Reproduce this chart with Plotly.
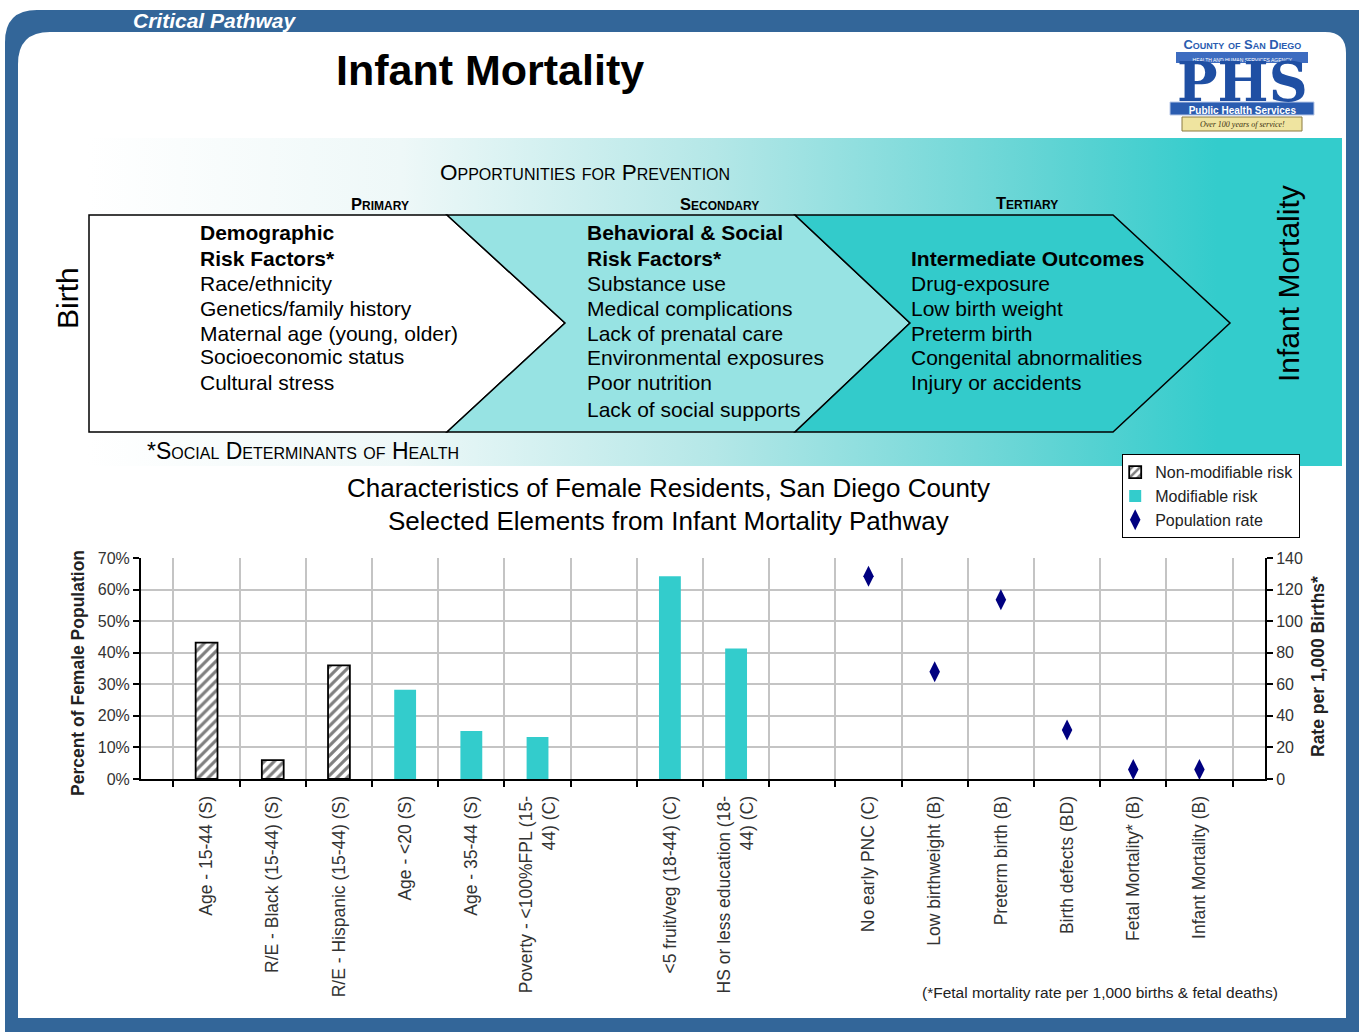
import plotly.graph_objects as go

W, H = 1359, 1032

# ---------------- data ----------------
categories = [
    "Age - 15-44 (S)", "R/E - Black (15-44) (S)", "R/E - Hispanic (15-44) (S)",
    "Age - &lt;20 (S)", "Age - 35-44 (S)", "Poverty - &lt;100%FPL (15-<br>44) (C)", " ",
    "&lt;5 fruit/veg (18-44) (C)", "HS or less education (18-<br>44) (C)", "  ",
    "No early PNC (C)", "Low birthweight (B)", "Preterm birth (B)",
    "Birth defects (BD)", "Fetal Mortality* (B)", "Infant Mortality (B)",
]
non_modifiable = [43.2, 6.0, 36.0, None, None, None, None, None, None, None,
                  None, None, None, None, None, None]
modifiable = [None, None, None, 28.3, 15.2, 13.3, None, 64.2, 41.3, None,
              None, None, None, None, None, None]
population_rate = [None, None, None, None, None, None, None, None, None, None,
                   128.5, 68.0, 113.5, 31.0, 6.0, 6.0]
left_ticks = [0, 10, 20, 30, 40, 50, 60, 70]
left_tick_text = ["0%", "10%", "20%", "30%", "40%", "50%", "60%", "70%"]
right_ticks = [0, 20, 40, 60, 80, 100, 120, 140]

primary_lines = ["Demographic", "Risk Factors*", "Race/ethnicity", "Genetics/family history",
                 "Maternal age (young, older)", "Socioeconomic status", "Cultural stress"]
secondary_lines = ["Behavioral & Social", "Risk Factors*", "Substance use", "Medical complications",
                   "Lack of prenatal care", "Environmental exposures", "Poor nutrition",
                   "Lack of social supports"]
tertiary_lines = ["Intermediate Outcomes", "Drug-exposure", "Low birth weight", "Preterm birth",
                  "Congenital abnormalities", "Injury or accidents"]

SANS = "Liberation Sans, Arial, sans-serif"
TEAL = "#33cccc"
BLUE = "#336699"


def X(px):
    return px / W


def Y(py):
    return 1 - py / H


def P(points, close=True):
    s = "M " + " L ".join(f"{X(a):.5f},{Y(b):.5f}" for a, b in points)
    return s + (" Z" if close else "")


fig = go.Figure()

# gradient background band on a hidden page-sized axis
fig.add_trace(go.Scatter(
    x=[88, 1342, 1342, 88, 88], y=[138, 138, 466, 466, 138],
    xaxis="x3", yaxis="y3", mode="lines", line=dict(width=0),
    fill="toself", hoverinfo="skip", showlegend=False,
    fillgradient=dict(type="horizontal",
                      colorscale=[[0, "#ffffff"], [0.25, "#eef8f8"], [0.5, "#b4e7e7"],
                                  [0.75, "#66d5d5"], [0.9, TEAL], [1, TEAL]]),
))

# chart traces
fig.add_trace(go.Bar(
    x=categories, y=non_modifiable, name="Non-modifiable risk", width=0.33,
    marker=dict(color="white", line=dict(color="black", width=1.8),
                pattern=dict(shape="/", fgcolor="black", bgcolor="white", size=7, solidity=0.45)),
))
fig.add_trace(go.Bar(
    x=categories, y=modifiable, name="Modifiable risk", width=0.33,
    marker=dict(color=TEAL, line=dict(width=0)),
))
fig.add_trace(go.Scatter(
    x=categories, y=population_rate, name="Population rate", yaxis="y2", mode="markers",
    marker=dict(symbol="diamond-tall", color="#000080", size=15),
))

shapes = []
# frame
shapes.append(dict(type="path", xref="paper", yref="paper", layer="below",
                   path=f"M {X(5)},{Y(1032)} L {X(5)},{Y(42)} Q {X(5)},{Y(10)} {X(37)},{Y(10)} "
                        f"L {X(1359)},{Y(10)} L {X(1359)},{Y(1032)} Z",
                   fillcolor=BLUE, line=dict(width=0)))
shapes.append(dict(type="path", xref="paper", yref="paper", layer="below",
                   path=f"M {X(18)},{Y(1018)} L {X(18)},{Y(64)} Q {X(18)},{Y(32)} {X(50)},{Y(32)} "
                        f"L {X(1325)},{Y(32)} Q {X(1346)},{Y(32)} {X(1346)},{Y(53)} "
                        f"L {X(1346)},{Y(1018)} Z",
                   fillcolor="white", line=dict(width=0)))
# chevrons
shapes.append(dict(type="path", xref="paper", yref="paper", layer="above",
                   path=P([(89, 215), (447, 215), (565, 323), (447, 432), (89, 432)]),
                   fillcolor="white", line=dict(color="black", width=1.5)))
shapes.append(dict(type="path", xref="paper", yref="paper", layer="above",
                   path=P([(447, 215), (795, 215), (910, 323), (795, 432), (447, 432), (565, 323)]),
                   fillcolor="#97e3e3", line=dict(color="black", width=1.5)))
shapes.append(dict(type="path", xref="paper", yref="paper", layer="above",
                   path=P([(795, 215), (1113, 215), (1230, 323), (1113, 432), (795, 432), (910, 323)]),
                   fillcolor="#33cbcb", line=dict(color="black", width=1.5)))
# logo bars
shapes.append(dict(type="rect", xref="paper", yref="paper", layer="below",
                   x0=X(1176), x1=X(1308), y0=Y(52), y1=Y(63), fillcolor="#3d6cc0", line=dict(width=0)))
shapes.append(dict(type="rect", xref="paper", yref="paper", layer="below",
                   x0=X(1170), x1=X(1314), y0=Y(102), y1=Y(115), fillcolor="#2a5cb0",
                   line=dict(color="#b8c8e8", width=1)))
shapes.append(dict(type="rect", xref="paper", yref="paper", layer="below",
                   x0=X(1182), x1=X(1302), y0=Y(117), y1=Y(131), fillcolor="#efe4a0",
                   line=dict(color="#8a7a40", width=1)))

ann = []


def T(x, y, text, size, color="black", family=SANS, xa="left", ya="middle", **kw):
    font = dict(size=size, color=color, family=family)
    for k in ("weight", "style", "variant"):
        if k in kw:
            font[k] = kw.pop(k)
    ann.append(dict(x=X(x), y=Y(y), xref="paper", yref="paper", text=text, showarrow=False,
                    xanchor=xa, yanchor=ya, font=font, **kw))


T(131, 20, "Critical Pathway", 21, color="white", weight="bold", style="italic")
T(490, 70, "Infant Mortality", 43, weight="bold", xa="center")

# logo as one multi-line text block (line pitch set by the 10px base font)
logo_lines = [
    "<span style='font-size:13px;font-variant:small-caps'><b>County of San Diego</b></span>",
    "<span style='font-size:5px;color:white'>HEALTH AND HUMAN SERVICES AGENCY</span>",
    " ",
    " ",
    "<span style='font-size:54px;font-family:DejaVu Serif;color:#1f4fa3'><b>PHS</b></span>",
    "<span style='color:white'><b>Public Health Services</b></span>",
    "<span style='font-size:8px;font-family:Liberation Serif;color:#3a3010'><i>Over 100 years of service!</i></span>",
]
T(1242, 35, "<br>".join(logo_lines), 10, color="#2a5cb0", xa="center", ya="top")

# prevention diagram texts
T(585, 173, "Opportunities for Prevention", 22.5, variant="small-caps", xa="center")
T(380, 204, "Primary", 16.5, variant="small-caps", weight="bold", xa="center")
T(719, 204, "Secondary", 16.5, variant="small-caps", weight="bold", xa="center")
T(1027, 203, "Tertiary", 16.5, variant="small-caps", weight="bold", xa="center")
T(67, 298, "Birth", 30, xa="center", textangle=-90)
T(1288, 284, "Infant Mortality", 30, xa="center", textangle=-90)

prim_y = [233, 258, 283, 308, 333, 357, 382]
for i, (t, yy) in enumerate(zip(primary_lines, prim_y)):
    T(198, yy, t, 21, weight=("bold" if i < 2 else "normal"))
sec_y = [233, 258, 283, 308, 333, 358, 382, 409]
for i, (t, yy) in enumerate(zip(secondary_lines, sec_y)):
    T(585, yy, t, 21, weight=("bold" if i < 2 else "normal"))
ter_y = [258, 283, 308, 333, 358, 382]
for i, (t, yy) in enumerate(zip(tertiary_lines, ter_y)):
    T(909, yy, t, 21, weight=("bold" if i < 1 else "normal"))
T(145, 451, "*Social Determinants of Health", 23, variant="small-caps")

# chart titles / axis titles / footnote
T(668, 488, "Characteristics of Female Residents, San Diego County", 26, xa="center")
T(668, 521, "Selected Elements from Infant Mortality Pathway", 26, xa="center")
T(78, 673, "Percent of Female Population", 17.5, weight="bold", xa="center",
  textangle=-90, color="#222")
T(1318, 667, "Rate per 1,000 Births*", 17.5, weight="bold", xa="center",
  textangle=-90, color="#222")
T(1100, 992, "(*Fetal mortality rate per 1,000 births & fetal deaths)", 15.5, xa="center",
  color="#222")

axis_font = dict(family=SANS, size=16, color="#333")
fig.update_layout(
    width=W, height=H, margin=dict(l=0, r=0, t=0, b=0, pad=0, autoexpand=False),
    paper_bgcolor="white", plot_bgcolor="rgba(0,0,0,0)",
    barmode="overlay", shapes=shapes, annotations=ann,
    xaxis=dict(domain=[X(141), X(1265)], anchor="y", type="category", automargin=False,
               categoryorder="array", categoryarray=categories,
               tickson="boundaries", ticks="outside", ticklen=6, tickwidth=1.5,
               tickcolor="black", tickangle=-90, ticklabelstandoff=8,
               tickfont=dict(family=SANS, size=17.5, color="#333"),
               showgrid=True, gridcolor="#c4c4c4", gridwidth=1.5,
               showline=True, linecolor="black", linewidth=2, fixedrange=True),
    yaxis=dict(domain=[Y(779), Y(558)], anchor="x", range=[0, 70], automargin=False,
               tickmode="array", tickvals=left_ticks, ticktext=left_tick_text,
               ticks="outside", ticklen=6, tickwidth=1.5,
               tickcolor="black", tickfont=axis_font, showgrid=True, gridcolor="#c4c4c4",
               gridwidth=1.5, showline=True, linecolor="black", linewidth=2, zeroline=False),
    yaxis2=dict(overlaying="y", side="right", anchor="x", range=[0, 140], tickvals=right_ticks,
                automargin=False,
                ticks="outside", ticklen=6, tickwidth=1.5, tickcolor="black", tickfont=axis_font,
                showgrid=False, showline=True, linecolor="black", linewidth=2, zeroline=False),
    xaxis3=dict(domain=[0, 1], anchor="y3", range=[0, W], visible=False, fixedrange=True,
                automargin=False),
    yaxis3=dict(domain=[0, 1], anchor="x3", range=[H, 0], visible=False, fixedrange=True,
                automargin=False),
    legend=dict(x=X(1122), y=Y(454), xanchor="left", yanchor="top", bgcolor="white",
                bordercolor="black", borderwidth=1.2, font=dict(family=SANS, size=16, color="#222"),
                itemwidth=30, tracegroupgap=0, indentation=-8),
    showlegend=True,
)

fig.write_html("out.html", config={"displayModeBar": False},
               post_script="document.body.style.margin='0';document.body.style.overflow='hidden';")
